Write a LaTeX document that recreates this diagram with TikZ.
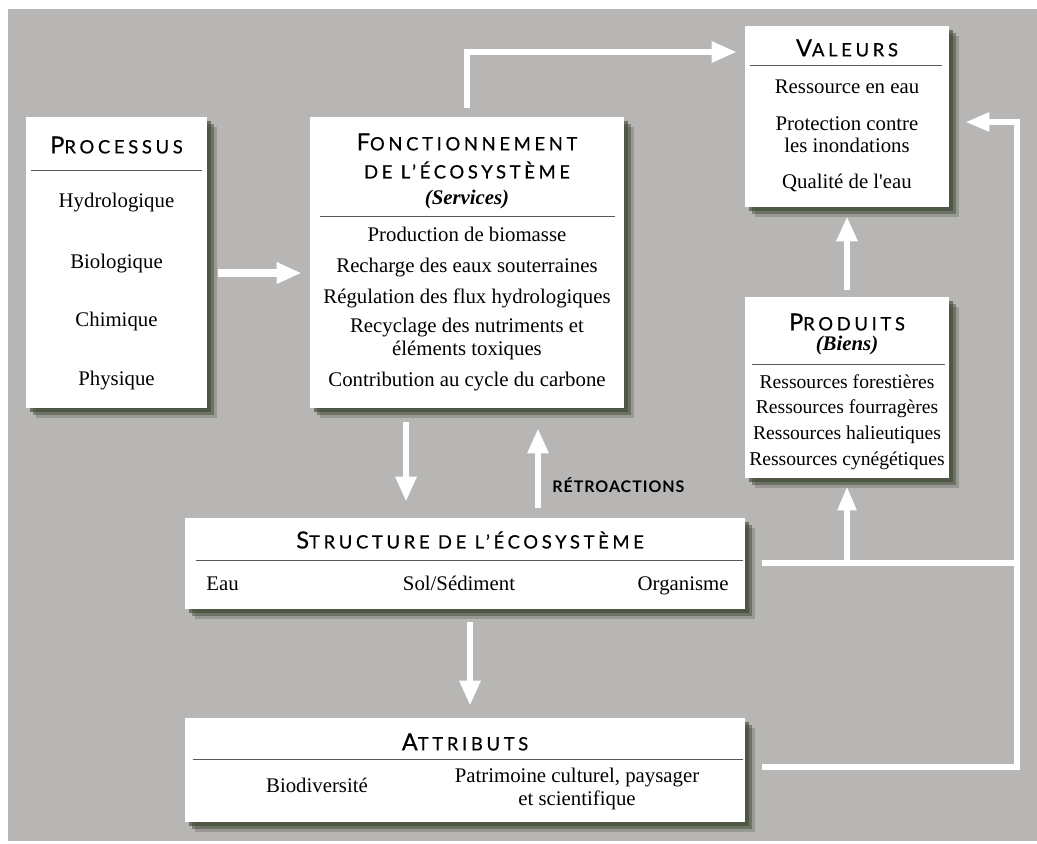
\documentclass[tikz,border=0pt]{standalone}
\usepackage{fontspec}
\setmainfont{Liberation Serif}
\newfontfamily\hfont[LetterSpace=20,FakeBold=0.5]{Lato}
\newfontfamily\rfont[LetterSpace=6]{Lato}
\usetikzlibrary{arrows.meta,shadows,calc}
\definecolor{bgc}{RGB}{183,182,180}
\definecolor{shc}{RGB}{58,68,48}
\newcommand\ttl{\fontsize{9.2}{11}\selectfont}
\newcommand\bigc[1]{{\fontsize{11.8}{13}\selectfont #1}}
\tikzset{
  box/.style={rectangle, fill=white, draw=none, inner sep=0pt,
    drop shadow={shadow xshift=5pt, shadow yshift=-5pt, fill=shc, opacity=.25},
    drop shadow={shadow xshift=3.5pt, shadow yshift=-3.5pt, fill=shc, opacity=.45},
    drop shadow={shadow xshift=2pt, shadow yshift=-2pt, fill=shc, opacity=.6}},
  txt/.style={inner sep=0pt, align=center, font=\fontsize{10.4}{11.2}\selectfont},
  txt1/.style={txt, text height=7.4pt, text depth=2.4pt},
  ptxt/.style={txt1, font=\fontsize{9.8}{11}\selectfont},
  ttxt/.style={inner sep=0pt, align=center, font=\hfont\ttl},
  divider/.style={draw=black!65, line width=0.6pt},
  arr/.style={draw=white, line width=3pt, -{Triangle[length=12.5pt,width=10pt]}},
  arrw/.style={arr, line width=4pt},
  loopl/.style={draw=white, line width=2.75pt, line join=miter},
  looparr/.style={loopl, -{Triangle[length=12pt,width=9pt]}}
}
\begin{document}
\begin{tikzpicture}[x=0.5pt,y=-0.5pt]
\useasboundingbox (0,0) rectangle (1037,843);
\fill[white] (0,0) rectangle (1037,843);
\fill[bgc] (8,9) rectangle (1037,841);

% boxes
\node[box, minimum width=90.5pt, minimum height=145.5pt] (proc) at (116.5,262.5) {};
\node[box, minimum width=157pt, minimum height=145.5pt] (fonc) at (467,262.5) {};
\node[box, minimum width=102pt, minimum height=90.5pt] (val) at (847,116.5) {};
\node[box, minimum width=102pt, minimum height=90.5pt] (prod) at (847,387.5) {};
\node[box, minimum width=280pt, minimum height=45.5pt] (struc) at (465,563.5) {};
\node[box, minimum width=280pt, minimum height=52pt] (attr) at (465,770) {};

% Processus
\node[ttxt] (procT) at (116.5,145) {\bigc{P}ROCESSUS};
\draw[divider] ($(proc.north west)+(5,54)$) -- ($(proc.north east)+(-5,54)$);
\node[txt1] (p1) at (116.5,202) {Hydrologique};
\node[txt1] (p2) at (116.5,263) {Biologique};
\node[txt1] (p3) at (116.5,321) {Chimique};
\node[txt1] (p4) at (116.5,380) {Physique};

% Fonctionnement
\node[ttxt] (foncT1) at (467,142) {\bigc{F}ONCTIONNEMENT};
\node[ttxt] (foncT2) at (467,170) {DE L’ÉCOSYSTÈME};
\node[txt1] (foncS) at (467,199) {\bfseries\itshape (Services)};
\draw[divider] ($(fonc.north west)+(10,100)$) -- ($(fonc.north east)+(-9,100)$);
\node[txt1] (f1) at (467,236) {Production de biomasse};
\node[txt1] (f2) at (467,267) {Recharge des eaux souterraines};
\node[txt1] (f3) at (467,298) {Régulation des flux hydrologiques};
\node[txt] (f4) at (467,339) {Recyclage des nutriments et\\éléments toxiques};
\node[txt1] (f5) at (467,381) {Contribution au cycle du carbone};

% Valeurs
\node[ttxt] (valT) at (847,48) {\bigc{V}ALEURS};
\draw[divider] ($(val.north west)+(5,40)$) -- ($(val.north east)+(-7,40)$);
\node[txt1] (v1) at (847,88) {Ressource en eau};
\node[txt] (v2) at (847,135) {Protection contre\\les inondations};
\node[txt1] (v3) at (847,183) {Qualité de l\textquotesingle eau};

% Produits
\node[ttxt] (prodT) at (847,322) {\bigc{P}RODUITS};
\node[txt1] (prodB) at (847,345) {\bfseries\itshape (Biens)};
\draw[divider] ($(prod.north west)+(7,68)$) -- ($(prod.north east)+(-4,68)$);
\node[ptxt] (r1) at (847,383) {Ressources forestières};
\node[ptxt] (r2) at (847,408) {Ressources fourragères};
\node[ptxt] (r3) at (847,434) {Ressources halieutiques};
\node[ptxt] (r4) at (847,460) {Ressources cynégétiques};

% Structure
\node[ttxt] (strucT) at (470,540) {\bigc{S}TRUCTURE DE L’ÉCOSYSTÈME};
\draw[divider] ($(struc.north west)+(11,43)$) -- ($(struc.north east)+(-2,43)$);
\node[txt1, anchor=west] (s1) at (206,585) {Eau};
\node[txt1] (s2) at (459,585) {Sol/Sédiment};
\node[txt1, anchor=east] (s3) at (729,585) {Organisme};

% Attributs
\node[ttxt] (attrT) at (465,742) {\bigc{A}TTRIBUTS};
\draw[divider] ($(attr.north west)+(8,42)$) -- ($(attr.north east)+(-2,42)$);
\node[txt1] (a1) at (317,787) {Biodiversité};
\node[txt] (a2) at (577,789) {Patrimoine culturel, paysager\\et scientifique};

% arrows
\draw[arrw] ($(proc.east)+(11,10.5)$) -- ($(fonc.west)+(-8,10.5)$);
\draw[arr] ($(fonc.north)+(0,-9)$) |- ($(val.west)+(-8,-64.5)$);
\draw[arr] ($(prod.north)+(0,-7)$) -- ($(val.south)+(0,9)$);
\draw[arr] ($(fonc.south)+(-61,14)$) -- ($(struc.north)+(-59,-16)$);
\draw[arr] ($(struc.north)+(73,-10)$) -- ($(fonc.south)+(71,20)$);
\draw[arr] ($(struc.south)+(5,13)$) -- ($(attr.north)+(5,-12)$);
\node[anchor=west, inner sep=0pt, font=\rfont\bfseries\fontsize{8}{9}\selectfont] (retro) at (552,485) {RÉTROACTIONS};

% right loop
\coordinate (rb) at (1017,767);
\coordinate (rt) at (1017,122);
\coordinate (rm) at (1017,563);
\coordinate (sj) at (847,563);
\draw[looparr] ($(attr.east)+(17,-3)$) -- (rb) -- (rt) -- ($(val.east)+(16,5.5)$);
\draw[loopl] ($(struc.east)+(17,-0.5)$) -- (rm);
\draw[looparr] (sj) -- ($(prod.south)+(0,8)$);
\end{tikzpicture}
\end{document}
